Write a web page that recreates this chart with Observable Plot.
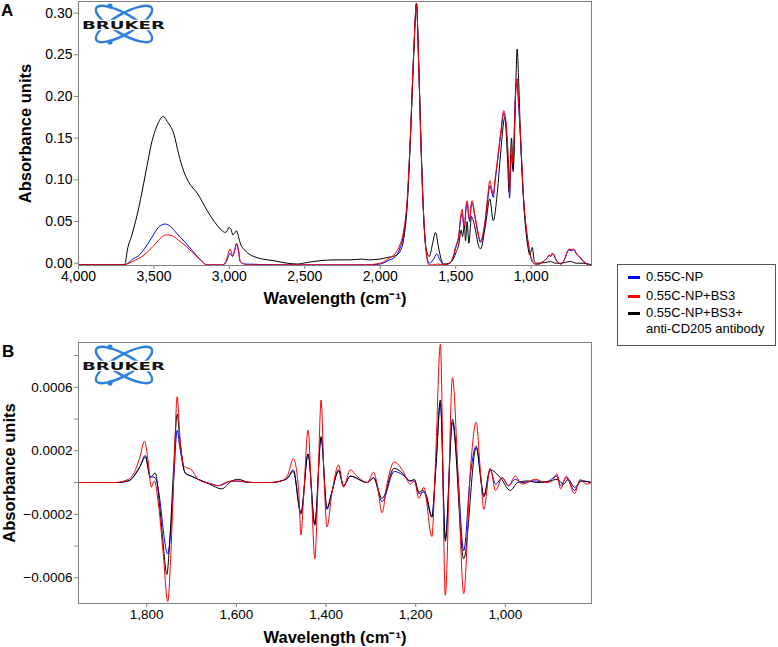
<!DOCTYPE html>
<html>
<head>
<meta charset="utf-8">
<script src="https://cdn.jsdelivr.net/npm/d3@7"></script>
<script src="https://cdn.jsdelivr.net/npm/@observablehq/plot@0.6"></script>
<style>
  html, body { margin: 0; padding: 0; background: #fff; }
  #root { position: relative; width: 778px; height: 647px; font-family: "Liberation Sans", Arial, sans-serif; }
  .abs { position: absolute; }
  .panelLabel { font-weight: bold; font-size: 17px; line-height: 1; }
  #legend { left: 617px; top: 264px; width: 159px; height: 82px; border: 1px solid #555; box-sizing: border-box; font-size: 13px; }
  .lgItem { position: absolute; left: 10px; }
  .lgSw { position: absolute; width: 12px; height: 3px; left: 0; }
  .lgTx { position: absolute; left: 18px; white-space: nowrap; line-height: 16px; }
</style>
</head>
<body>
<div id="root"></div>
<script>
// ---------- Data ----------
const seriesNames = ["0.55C-NP", "0.55C-NP+BS3", "0.55C-NP+BS3+ anti-CD205 antibody"];
const seriesColors = ["#0000ff", "#ff0000", "#000000"];

// Panel A axes
const ticksAx = [4000, 3500, 3000, 2500, 2000, 1500, 1000];
const ticksAy = [0, 0.05, 0.10, 0.15, 0.20, 0.25, 0.30];
// Panel B axes
const ticksBx = [1800, 1600, 1400, 1200, 1000];
const ticksBy = [-0.0006, -0.0004, -0.0002, 0, 0.0002, 0.0004, 0.0006, 0.0008];
const ticksByLabels = ["−0.0006", "", "−0.0002", "", "0.0002", "", "0.0006", ""];

// Panel A spectra [wavenumber, absorbance]
const aBlue = [[4000,-0.002],[3700,-0.002],[3680,-0.001],[3640,0.005],[3602,0.009],[3560,0.018],[3514,0.031],[3470,0.043],[3426,0.047],[3390,0.044],[3350,0.036],[3293,0.025],[3250,0.016],[3227,0.011],[3180,0.002],[3150,-0.002],[3040,-0.002],[3020,0.002],[2995,0.012],[2979,0.008],[2951,0.023],[2940,0.016],[2928,0.002],[2900,-0.001],[2600,-0.002],[2100,-0.002],[2000,-0.001],[1950,0.003],[1900,0.008],[1870,0.018],[1844,0.036],[1822,0.072],[1800,0.152],[1778,0.255],[1760,0.311],[1745,0.235],[1729,0.135],[1712,0.055],[1694,0.011],[1675,0.0],[1650,0.004],[1625,0.011],[1605,0.004],[1579,-0.002],[1540,0],[1523,0.004],[1500,0.018],[1479,0.033],[1468,0.052],[1457,0.06],[1448,0.046],[1442,0.042],[1432,0.064],[1424,0.072],[1414,0.056],[1407,0.05],[1398,0.067],[1391,0.072],[1375,0.058],[1358,0.041],[1336,0.025],[1320,0.032],[1303,0.052],[1285,0.08],[1274,0.093],[1262,0.086],[1251,0.079],[1240,0.096],[1224,0.12],[1203,0.152],[1181,0.18],[1170,0.172],[1158,0.143],[1150,0.115],[1143,0.078],[1136,0.115],[1130,0.13],[1122,0.113],[1115,0.135],[1108,0.185],[1100,0.215],[1093,0.216],[1085,0.195],[1071,0.15],[1049,0.072],[1027,0.033],[1005,0.009],[990,0.001],[970,-0.001],[950,-0.001],[920,0.002],[895,0.006],[880,0.009],[870,0.008],[860,0.011],[850,0.01],[835,0.004],[815,0],[805,-0.001],[780,0.004],[765,0.011],[750,0.016],[735,0.015],[717,0.016],[700,0.011],[673,0.006],[650,0.001],[620,-0.002],[600,-0.003]];
const aRed = [[4000,-0.002],[3700,-0.002],[3680,-0.001],[3620,0.004],[3558,0.011],[3492,0.023],[3450,0.031],[3415,0.034],[3380,0.033],[3340,0.028],[3293,0.021],[3250,0.014],[3227,0.010],[3180,0.002],[3150,-0.002],[3040,-0.002],[3020,0.004],[2995,0.017],[2979,0.009],[2965,0.015],[2951,0.024],[2940,0.015],[2928,0.002],[2900,-0.001],[2873,-0.002],[2600,-0.002],[2100,-0.002],[2000,0],[1950,0.005],[1900,0.012],[1870,0.022],[1844,0.040],[1822,0.075],[1800,0.155],[1778,0.255],[1760,0.311],[1745,0.235],[1729,0.135],[1712,0.055],[1694,0.011],[1678,-0.002],[1650,-0.002],[1620,-0.001],[1579,-0.002],[1540,0],[1523,0.005],[1500,0.02],[1479,0.035],[1468,0.055],[1457,0.065],[1448,0.048],[1442,0.045],[1432,0.068],[1424,0.075],[1414,0.058],[1407,0.052],[1398,0.07],[1391,0.075],[1375,0.06],[1358,0.043],[1336,0.027],[1320,0.035],[1303,0.055],[1285,0.085],[1274,0.099],[1262,0.09],[1251,0.083],[1240,0.1],[1224,0.123],[1203,0.155],[1181,0.183],[1170,0.175],[1158,0.147],[1150,0.12],[1143,0.085],[1136,0.12],[1130,0.14],[1122,0.12],[1115,0.14],[1104,0.2],[1093,0.222],[1085,0.2],[1071,0.155],[1049,0.075],[1027,0.035],[1005,0.01],[990,0.002],[970,-0.001],[950,-0.001],[920,0.002],[895,0.006],[880,0.01],[870,0.009],[860,0.012],[850,0.011],[835,0.004],[815,0],[805,-0.001],[780,0.004],[765,0.012],[750,0.017],[735,0.016],[717,0.017],[700,0.012],[673,0.007],[650,0.002],[620,-0.002],[600,-0.003]];
const aBlack = [[4000,-0.002],[3700,-0.002],[3690,0.0],[3677,0.015],[3644,0.035],[3600,0.067],[3556,0.107],[3512,0.147],[3479,0.165],[3439,0.176],[3412,0.17],[3368,0.155],[3335,0.13],[3302,0.11],[3269,0.097],[3213,0.084],[3147,0.063],[3100,0.05],[3048,0.039],[3030,0.037],[3017,0.038],[3004,0.043],[2990,0.041],[2977,0.034],[2965,0.036],[2953,0.039],[2940,0.032],[2926,0.023],[2900,0.016],[2870,0.011],[2838,0.008],[2780,0.005],[2706,0.003],[2617,0.0],[2550,-0.001],[2480,0.001],[2400,0.003],[2300,0.004],[2200,0.004],[2120,0.005],[2080,0.004],[2000,0.005],[1950,0.007],[1900,0.009],[1866,0.015],[1844,0.03],[1822,0.068],[1800,0.15],[1778,0.25],[1760,0.312],[1745,0.24],[1729,0.14],[1712,0.055],[1694,0.015],[1675,0.008],[1655,0.022],[1634,0.037],[1615,0.02],[1595,0.004],[1579,-0.001],[1540,0],[1523,0.003],[1500,0.012],[1479,0.023],[1464,0.04],[1455,0.032],[1442,0.045],[1435,0.027],[1424,0.05],[1413,0.024],[1395,0.056],[1375,0.045],[1347,0.02],[1336,0.017],[1303,0.045],[1274,0.077],[1251,0.051],[1224,0.085],[1203,0.13],[1174,0.175],[1158,0.13],[1146,0.085],[1130,0.15],[1119,0.11],[1104,0.195],[1093,0.257],[1082,0.215],[1071,0.155],[1049,0.072],[1022,0.02],[1009,0.01],[993,0.019],[978,0.002],[960,0],[900,0.001],[872,0.002],[840,0.0],[805,0],[740,0.002],[700,0.0],[650,0],[600,-0.002]];

// Panel B spectra (second derivative) [wavenumber, value]
const bBlue = [[1952,0],[1870,0],[1841,0.00001],[1815,0.0001],[1803,0.00016],[1792,0.00004],[1781,0.00003],[1770,-0.00012],[1763,-0.0003],[1753,-0.00045],[1746,-0.0003],[1739,0.00005],[1732,0.00033],[1726,0.00022],[1714,0.00006],[1700,0.00004],[1685,0.00002],[1655,-0.00001],[1640,-0.00002],[1610,0.00001],[1560,0],[1524,0],[1500,0.00001],[1485,0.00003],[1473,0.00007],[1456,-0.0002],[1440,0.00018],[1425,-0.00027],[1411,0.00028],[1398,-0.00017],[1387,-0.00006],[1372,0.00007],[1361,-0.00002],[1346,0.00004],[1308,0],[1294,0.00003],[1275,-0.00012],[1248,0.00007],[1230,0.00005],[1212,0.00001],[1203,0.00001],[1193,-0.00007],[1182,-0.00006],[1164,-0.00021],[1155,0.0001],[1145,0.0005],[1134,-0.00035],[1118,0.0004],[1106,0.00005],[1093,-0.00043],[1078,0.00005],[1065,0.00023],[1056,0.00005],[1048,-0.00008],[1034,0.00008],[1022,-0.00001],[1007,0.00003],[993,-0.00002],[978,0.00002],[963,0],[933,0.00001],[911,0],[885,0.00004],[877,-0.00002],[864,0.00003],[846,-0.00005],[833,0.00001],[808,0]];
const bRed = [[1952,0],[1870,0],[1841,0.00002],[1825,0.00008],[1815,0.00016],[1805,0.00026],[1796,0.00012],[1790,-0.00003],[1783,0.00001],[1774,-0.00013],[1763,-0.00045],[1753,-0.00075],[1746,-0.00045],[1739,0.00008],[1732,0.00054],[1726,0.00029],[1716,0.0001],[1700,0.00008],[1685,0.00002],[1655,-0.00001],[1640,-0.00002],[1620,0.000005],[1600,0.00001],[1560,0],[1524,0],[1500,0.00001],[1485,0.00005],[1473,0.00015],[1461,-0.00005],[1456,-0.00033],[1450,-0.00009],[1440,0.00033],[1433,-0.00003],[1425,-0.00048],[1418,-0.00002],[1411,0.00052],[1405,0.00008],[1398,-0.00028],[1387,-0.00007],[1372,0.00011],[1361,-0.00003],[1346,0.00008],[1331,0.00004],[1308,0],[1294,0.000065],[1286,-0.00001],[1275,-0.00019],[1264,-0.00001],[1248,0.00013],[1230,0.00008],[1212,-0.00001],[1203,0.00001],[1193,-0.0001],[1182,-0.00003],[1164,-0.00034],[1155,0.0002],[1145,0.00087],[1134,-0.00071],[1118,0.00066],[1106,0.00008],[1093,-0.0007],[1078,0.00008],[1065,0.00038],[1056,0.00008],[1048,-0.00017],[1034,0.00009],[1022,-0.00005],[1007,0.00003],[993,-0.00002],[978,0.00004],[963,-0.00001],[933,0.00002],[911,0],[896,0.00001],[885,0.000055],[877,-0.00004],[864,0.00004],[846,-0.00007],[833,0.00002],[820,-0.00001],[808,0]];
const bBlack = [[1952,0],[1870,0],[1841,0.00001],[1815,0.0001],[1803,0.00017],[1792,0.00003],[1781,0.00006],[1770,-0.00018],[1763,-0.00039],[1755,-0.00058],[1748,-0.00034],[1740,0.00008],[1732,0.00043],[1726,0.00027],[1714,0.00006],[1700,0.00004],[1685,0.00002],[1660,-0.00001],[1633,-0.00004],[1610,0.00001],[1596,0.00002],[1570,0],[1524,0],[1500,0.00001],[1485,0.00003],[1473,0.00008],[1456,-0.00019],[1440,0.00018],[1425,-0.00026],[1411,0.00029],[1398,-0.00016],[1387,-0.00006],[1372,0.00008],[1361,-0.00002],[1346,0.00004],[1308,0],[1294,0.00003],[1275,-0.0001],[1248,0.00009],[1230,0.00006],[1212,0.00001],[1203,0.00002],[1193,-0.00006],[1185,-0.00005],[1175,-0.00009],[1164,-0.00022],[1155,0.0001],[1145,0.00052],[1134,-0.00037],[1118,0.00038],[1093,-0.00048],[1065,0.00022],[1048,-0.00009],[1034,0.00008],[1011,0.00003],[989,-0.00005],[973,0],[950,0.00001],[930,0],[900,0.00001],[885,0.00002],[870,-0.00001],[860,0.00002],[846,-0.00003],[830,0.00001],[808,0]];

// ---------- Build ----------
// draw order: blue, black, red (index into seriesNames)
function rows(list, order) {
  const out = [];
  list.forEach((pts, k) => pts.forEach(([wn, v]) => out.push({series: seriesNames[order[k]], wn, v})));
  return out;
}
const order = [0, 2, 1];
const rowsA = rows([aBlue, aBlack, aRed], order);
const rowsB = rows([bBlue, bBlack, bRed], order);

const FONT = '"Liberation Sans", Arial, sans-serif';
const AXIS = "#808080";

const chartA = Plot.plot({
  width: 778, height: 305,
  marginLeft: 78, marginRight: 187, marginTop: 1, marginBottom: 40,
  style: {fontFamily: FONT, fontSize: "14px", color: "black", background: "transparent", overflow: "visible"},
  x: {domain: [4000, 600]},
  y: {domain: [-0.00276, 0.3139]},
  color: {domain: seriesNames, range: seriesColors},
  marks: [
    Plot.axisX({ticks: ticksAx, tickFormat: d3.format(","), tickSize: 4, tickPadding: 2, stroke: AXIS, fill: "black", label: null}),
    Plot.axisY({ticks: ticksAy, tickFormat: d3.format(".2f"), tickSize: 4, tickPadding: 2, stroke: AXIS, fill: "black", label: null}),
    Plot.line(rowsA, {x: "wn", y: "v", z: "series", stroke: "series", strokeWidth: 1, curve: "monotone-x", clip: true}),
    Plot.frame({stroke: AXIS}),
    Plot.text(["Wavelength (cm⁻¹)"], {frameAnchor: "bottom", lineAnchor: "middle", textAnchor: "middle", dy: 33, fontWeight: "bold", fontSize: 16.5, fill: "black"}),
    Plot.text(["Absorbance units"], {frameAnchor: "left", textAnchor: "middle", lineAnchor: "middle", dx: -53, rotate: -90, fontWeight: "bold", fontSize: 16.5, fill: "black"})
  ]
});

const chartB = Plot.plot({
  width: 778, height: 317,
  marginLeft: 78, marginRight: 187, marginTop: 12, marginBottom: 44,
  style: {fontFamily: FONT, fontSize: "13.5px", color: "black", background: "transparent", overflow: "visible"},
  x: {domain: [1952, 808]},
  y: {domain: [-0.000762, 0.000882]},
  color: {domain: seriesNames, range: seriesColors},
  marks: [
    Plot.axisX({ticks: ticksBx, tickFormat: d3.format(","), tickSize: 4, tickPadding: 2, stroke: AXIS, fill: "black", label: null}),
    Plot.axisY({ticks: ticksBy, tickFormat: (d, i) => ticksByLabels[i], tickSize: 4, tickPadding: 2, stroke: AXIS, fill: "black", label: null}),
    Plot.line(rowsB, {x: "wn", y: "v", z: "series", stroke: "series", strokeWidth: 1, curve: "monotone-x", clip: true}),
    Plot.frame({stroke: AXIS}),
    Plot.text(["Wavelength (cm⁻¹)"], {frameAnchor: "bottom", lineAnchor: "middle", textAnchor: "middle", dy: 34, fontWeight: "bold", fontSize: 16.5, fill: "black"}),
    Plot.text(["Absorbance units"], {frameAnchor: "left", textAnchor: "middle", lineAnchor: "middle", dx: -69, rotate: -90, fontWeight: "bold", fontSize: 16.5, fill: "black"})
  ]
});

const root = document.getElementById("root");
function place(el, left, top) { el.style.position = "absolute"; el.style.left = left + "px"; el.style.top = top + "px"; root.appendChild(el); }
place(chartA, 0, 0);
place(chartB, 0, 330);

// Panel letters
function label(txt, left, top) { const d = document.createElement("div"); d.className = "abs panelLabel"; d.textContent = txt; d.style.left = left + "px"; d.style.top = top + "px"; root.appendChild(d); }
label("A", 1, 2);
label("B", 2, 343);

// Bruker logos (decoration)
function logo(cx, cy) {
  const ns = "http://www.w3.org/2000/svg";
  const s = document.createElementNS(ns, "svg");
  s.setAttribute("width", 100); s.setAttribute("height", 46);
  s.style.position = "absolute"; s.style.left = (cx - 50) + "px"; s.style.top = (cy - 23) + "px";
  s.innerHTML = `
    <g fill="none" stroke="#2a7fe0" stroke-width="2.4">
      <ellipse cx="50" cy="23" rx="32" ry="10" transform="rotate(30 50 23)"/>
      <ellipse cx="50" cy="23" rx="32" ry="10" transform="rotate(-30 50 23)"/>
    </g>
    <circle cx="36" cy="5" r="2.6" fill="#2a7fe0"/>
    <circle cx="36" cy="41" r="2.6" fill="#2a7fe0"/>
    <text x="8" y="27.5" font-family="DejaVu Sans, sans-serif" font-weight="bold" font-size="11" textLength="83" lengthAdjust="spacingAndGlyphs" fill="#111" stroke="#fff" stroke-width="2.5" paint-order="stroke">BRUKER</text>`;
  root.appendChild(s);
}
logo(124, 24);
logo(124, 365);

// Legend
const lg = document.createElement("div");
lg.id = "legend"; lg.className = "abs";
const tops = [4, 23, 40];
seriesNames.forEach((name, i) => {
  const it = document.createElement("div"); it.className = "lgItem"; it.style.top = tops[i] + "px";
  const sw = document.createElement("div"); sw.className = "lgSw"; sw.style.background = seriesColors[i]; sw.style.top = "7px";
  const tx = document.createElement("div"); tx.className = "lgTx";
  if (i === 2) { tx.innerHTML = "0.55C-NP+BS3+<br>anti-CD205 antibody"; } else { tx.textContent = name; }
  it.appendChild(sw); it.appendChild(tx); lg.appendChild(it);
});
root.appendChild(lg);
</script>
</body>
</html>
